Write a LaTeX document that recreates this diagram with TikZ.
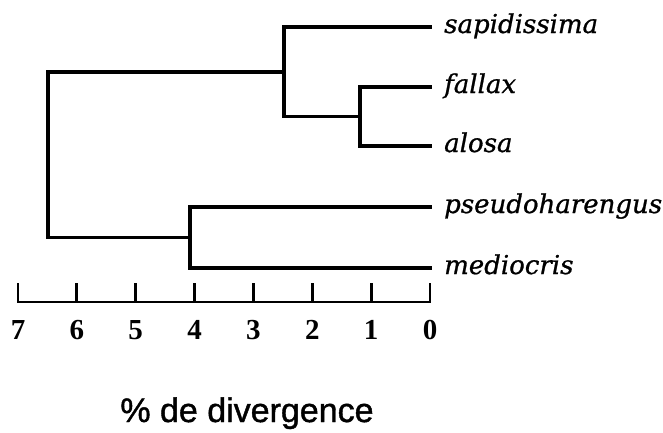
\documentclass[tikz,border=0pt]{standalone}
\usepackage{fontspec}
\newfontfamily\labfont[FakeBold=0.9]{DejaVu Serif}
\newfontfamily\numfont{Liberation Serif}
\newfontfamily\capfont[FakeBold=1.2]{Liberation Sans}
\begin{document}
\begin{tikzpicture}[x=1pt,y=-1pt,
  branch/.style={line width=3.2pt, line cap=rect},
  axisline/.style={line width=2.8pt, line cap=rect},
  leaflabel/.style={anchor=base west, inner sep=0pt, font=\labfont\itshape\fontsize{26}{30}\selectfont},
  ticklabel/.style={anchor=base, inner sep=0pt, font=\numfont\bfseries\fontsize{29}{32}\selectfont},
  caption/.style={anchor=base, inner sep=0pt, font=\capfont\fontsize{34}{40}\selectfont}]
\useasboundingbox (0,0) rectangle (663,432);
% leaves
\coordinate (sap) at (430,27);
\coordinate (fal) at (430,87);
\coordinate (alo) at (430,146);
\coordinate (pse) at (430,207);
\coordinate (med) at (430,268);
% internal nodes
\coordinate (n1) at (360,116.5);
\coordinate (n2) at (284,72);
\coordinate (n3) at (190,237.5);
\coordinate (root) at (48,155);
% labels
\node[leaflabel] (lsap) at (444,33) {sapidissima};
\node[leaflabel] (lfal) at (444,93) {fallax};
\node[leaflabel] (lalo) at (444,152) {alosa};
\node[leaflabel] (lpse) at (444,213) {pseudoharengus};
\node[leaflabel] (lmed) at (444,274) {mediocris};
% tree
\draw[branch] (fal) -| (n1) |- (alo);
\draw[branch] (sap) -| (n2) |- (n1);
\draw[branch] (pse) -| (n3) |- (med);
\draw[branch] (n2) -| (root) |- (n3);
% axis
\foreach \v in {0,...,7} {
  \coordinate (t\v) at ({430-\v*58.857},302);
  \draw[axisline] (t\v) -- ++(0,-18);
  \node[ticklabel] (l\v) at ({430-\v*58.857},339) {\v};
}
\draw[axisline] (t7) -- (t0);
\node[caption] (cap) at (247,422) {\% de divergence};
\end{tikzpicture}
\end{document}
